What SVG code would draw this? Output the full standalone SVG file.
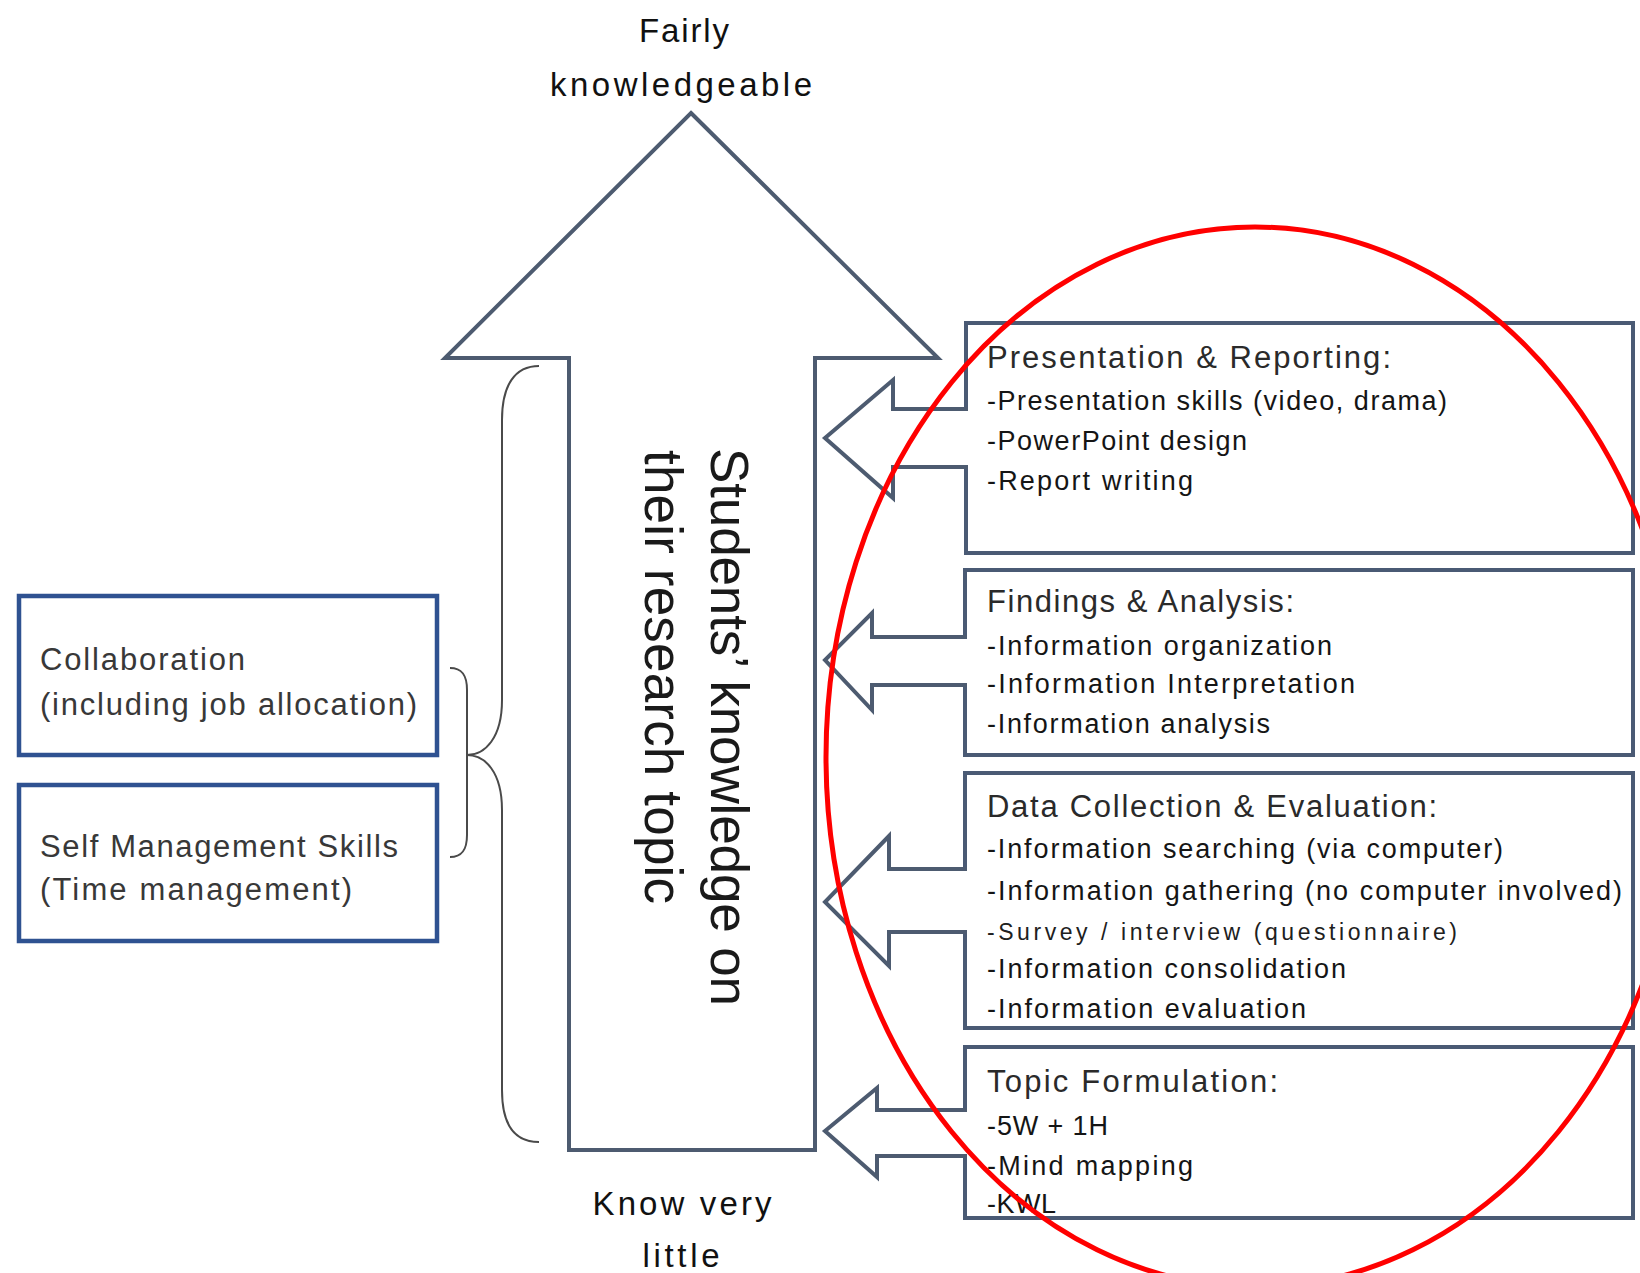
<svg xmlns="http://www.w3.org/2000/svg" width="1640" height="1273" viewBox="0 0 1640 1273">
<style>
.txt{font-family:"Liberation Sans",Arial,sans-serif;fill:#1e1e1e}
.head{font-size:31px;fill:#2a2a2a}
.item{font-size:27px;fill:#151515}
.small{font-size:23px;fill:#202020}
.lbl{font-size:33px;fill:#111}
.left{font-size:31px;fill:#383838}
.vert{font-size:53px;fill:#1a1a1a}
.bigarrow{fill:#fff;stroke:#4d5b70;stroke-width:4;stroke-linejoin:miter}
.rbox{fill:#fff;stroke:#4a5a74;stroke-width:4}
.lbox{fill:#fff;stroke:#2f5291;stroke-width:4.5}
.conn{fill:#fff;stroke:#4d5b70;stroke-width:4;stroke-linejoin:miter}
.brace{fill:none;stroke:#4a4a4a;stroke-width:2}
.ring{fill:none;stroke:#ff0000;stroke-width:5}
</style>

<g id="main-arrow">
  <polygon class="bigarrow" points="691,113 938,358 815,358 815,1150 569,1150 569,358 445,358"/>
  <text class="txt vert" transform="translate(711,448) rotate(90)" textLength="558">Students’ knowledge on</text>
  <text class="txt vert" transform="translate(645,450) rotate(90)" textLength="454">their research topic</text>
</g>

<g id="label-top">
  <text class="txt lbl" x="684" y="42" text-anchor="middle" textLength="90">Fairly</text>
  <text class="txt lbl" x="681" y="96" text-anchor="middle" textLength="262">knowledgeable</text>
</g>

<g id="label-bottom">
  <text class="txt lbl" x="682" y="1215" text-anchor="middle" textLength="179">Know very</text>
  <text class="txt lbl" x="681" y="1267" text-anchor="middle" textLength="77">little</text>
</g>

<g id="box-collaboration">
  <rect class="lbox" x="19" y="596" width="418" height="159"/>
  <text class="txt left" x="40" y="670" textLength="205">Collaboration</text>
  <text class="txt left" x="40" y="715" textLength="377">(including job allocation)</text>
</g>

<g id="box-self-management">
  <rect class="lbox" x="19" y="785" width="418" height="156"/>
  <text class="txt left" x="40" y="857" textLength="358">Self Management Skills</text>
  <text class="txt left" x="40" y="900" textLength="312">(Time management)</text>
</g>

<g id="box-presentation">
  <rect class="rbox" x="966" y="323" width="667" height="230"/>
  <text class="txt head" x="987" y="368" textLength="404">Presentation &amp; Reporting:</text>
  <text class="txt item" x="987" y="410" textLength="460">-Presentation skills (video, drama)</text>
  <text class="txt item" x="987" y="450" textLength="260">-PowerPoint design</text>
  <text class="txt item" x="987" y="490" textLength="206">-Report writing</text>
</g>

<g id="box-findings">
  <rect class="rbox" x="965" y="570" width="668" height="185"/>
  <text class="txt head" x="987" y="612" textLength="307">Findings &amp; Analysis:</text>
  <text class="txt item" x="987" y="655" textLength="345">-Information organization</text>
  <text class="txt item" x="987" y="693" textLength="368">-Information Interpretation</text>
  <text class="txt item" x="987" y="733" textLength="283">-Information analysis</text>
</g>

<g id="box-data-collection">
  <rect class="rbox" x="965" y="773" width="668" height="255"/>
  <text class="txt head" x="987" y="817" textLength="450">Data Collection &amp; Evaluation:</text>
  <text class="txt item" x="987" y="858" textLength="516">-Information searching (via computer)</text>
  <text class="txt item" x="987" y="900" textLength="635">-Information gathering (no computer involved)</text>
  <text class="txt small" x="987" y="940" textLength="470">-Survey / interview (questionnaire)</text>
  <text class="txt item" x="987" y="978" textLength="359">-Information consolidation</text>
  <text class="txt item" x="987" y="1018" textLength="319">-Information evaluation</text>
</g>

<g id="box-topic">
  <rect class="rbox" x="965" y="1047" width="668" height="171"/>
  <text class="txt head" x="987" y="1092" textLength="291">Topic Formulation:</text>
  <text class="txt item" x="987" y="1135" textLength="121">-5W + 1H</text>
  <text class="txt item" x="987" y="1175" textLength="206">-Mind mapping</text>
  <text class="txt item" x="987" y="1213" textLength="69">-KWL</text>
</g>

<g id="connectors">
  <path class="conn" d="M968,409 L893,409 L893,380 L825,438 L893,498 L893,467 L968,467"/>
  <path class="conn" d="M967,637 L872,637 L872,613 L825,660 L872,710 L872,685 L967,685"/>
  <path class="conn" d="M967,869 L889,869 L889,836 L825,902 L889,966 L889,932 L967,932"/>
  <path class="conn" d="M967,1110 L877,1110 L877,1088 L825,1131 L877,1177 L877,1156 L967,1156"/>
  <path class="brace" d="M450,668 C462,668 467,675 467,690 L467,835 C467,850 462,857 450,857"/>
  <path class="brace" d="M539,366 C515,366 502,385 502,420 L502,700 C502,738 485,755 467,755 C485,755 502,772 502,810 L502,1090 C502,1125 515,1142 539,1142"/>
</g>

<g id="highlight">
  <ellipse class="ring" cx="1255" cy="757" rx="429" ry="530"/>
</g>
</svg>
